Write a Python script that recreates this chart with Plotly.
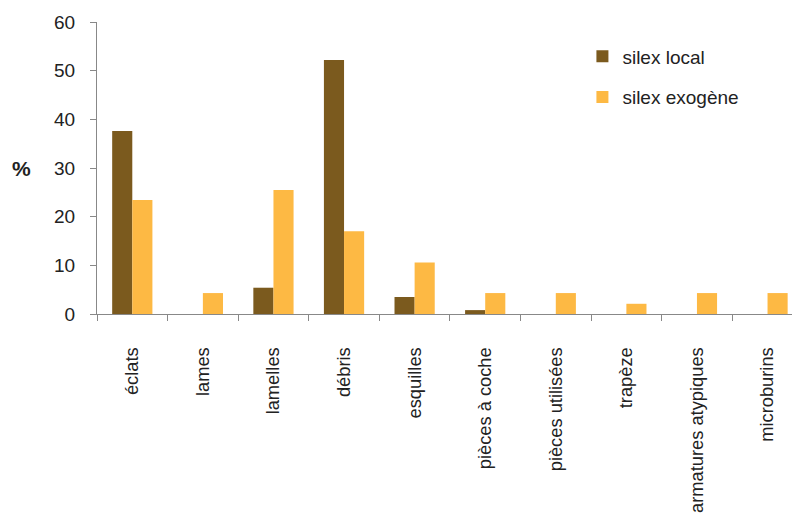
import plotly.graph_objects as go

categories = ["éclats", "lames", "lamelles", "débris", "esquilles", "pièces à coche",
              "pièces utilisées", "trapèze", "armatures atypiques", "microburins"]
silex_local = [37.6, 0, 5.4, 52.2, 3.5, 0.8, 0, 0, 0, 0]
silex_exogene = [23.4, 4.3, 25.5, 17.0, 10.6, 4.3, 4.3, 2.1, 4.3, 4.3]
y_ticks = [0, 10, 20, 30, 40, 50, 60]

COL_LOCAL = "#7b5a1e"
COL_EXO = "#fdb944"
FONT = "Liberation Sans, Arial, sans-serif"

fig = go.Figure()
fig.add_trace(go.Bar(x=categories, y=silex_local, name="silex local",
                     marker=dict(color=COL_LOCAL, line=dict(width=0)),
                     legendgroup="a"))
fig.add_trace(go.Bar(x=categories, y=silex_exogene, name="silex exogène",
                     marker=dict(color=COL_EXO, line=dict(width=0)),
                     legendgroup="b"))

fig.update_layout(
    width=792, height=509,
    margin=dict(l=89, r=0, t=14, b=203, autoexpand=False),
    paper_bgcolor="white", plot_bgcolor="white",
    barmode="group", bargap=0.43, bargroupgap=0,
    font=dict(family=FONT, size=19, color="#222222"),
    showlegend=True,
    legend=dict(x=0.6905, y=0.947, xanchor="left", yanchor="top",
                font=dict(size=19, color="#222222"),
                tracegroupgap=13, traceorder="grouped",
                bgcolor="rgba(0,0,0,0)"),
    xaxis=dict(type="category", range=[-0.5, 9.46], tickson="boundaries",
               ticks="outside", ticklen=6, tickcolor="#888888",
               showline=True, linecolor="#888888", linewidth=1,
               showgrid=False, tickangle=-90, ticklabelstandoff=25,
               automargin=False,
               tickfont=dict(size=18.3, color="#222222")),
    yaxis=dict(range=[0, 60], tickvals=y_ticks, ticks="outside", ticklen=6,
               tickcolor="#888888", showline=True, linecolor="#888888",
               linewidth=1, showgrid=False, zeroline=False,
               ticklabelstandoff=11, automargin=False,
               tickfont=dict(size=19, color="#222222")),
)

fig.add_annotation(text="<b>%</b>", xref="paper", yref="paper",
                   x=-0.107, y=0.5, xanchor="center", yanchor="middle",
                   showarrow=False,
                   font=dict(size=21, color="#222222", family=FONT))

fig.write_html("out.html")
